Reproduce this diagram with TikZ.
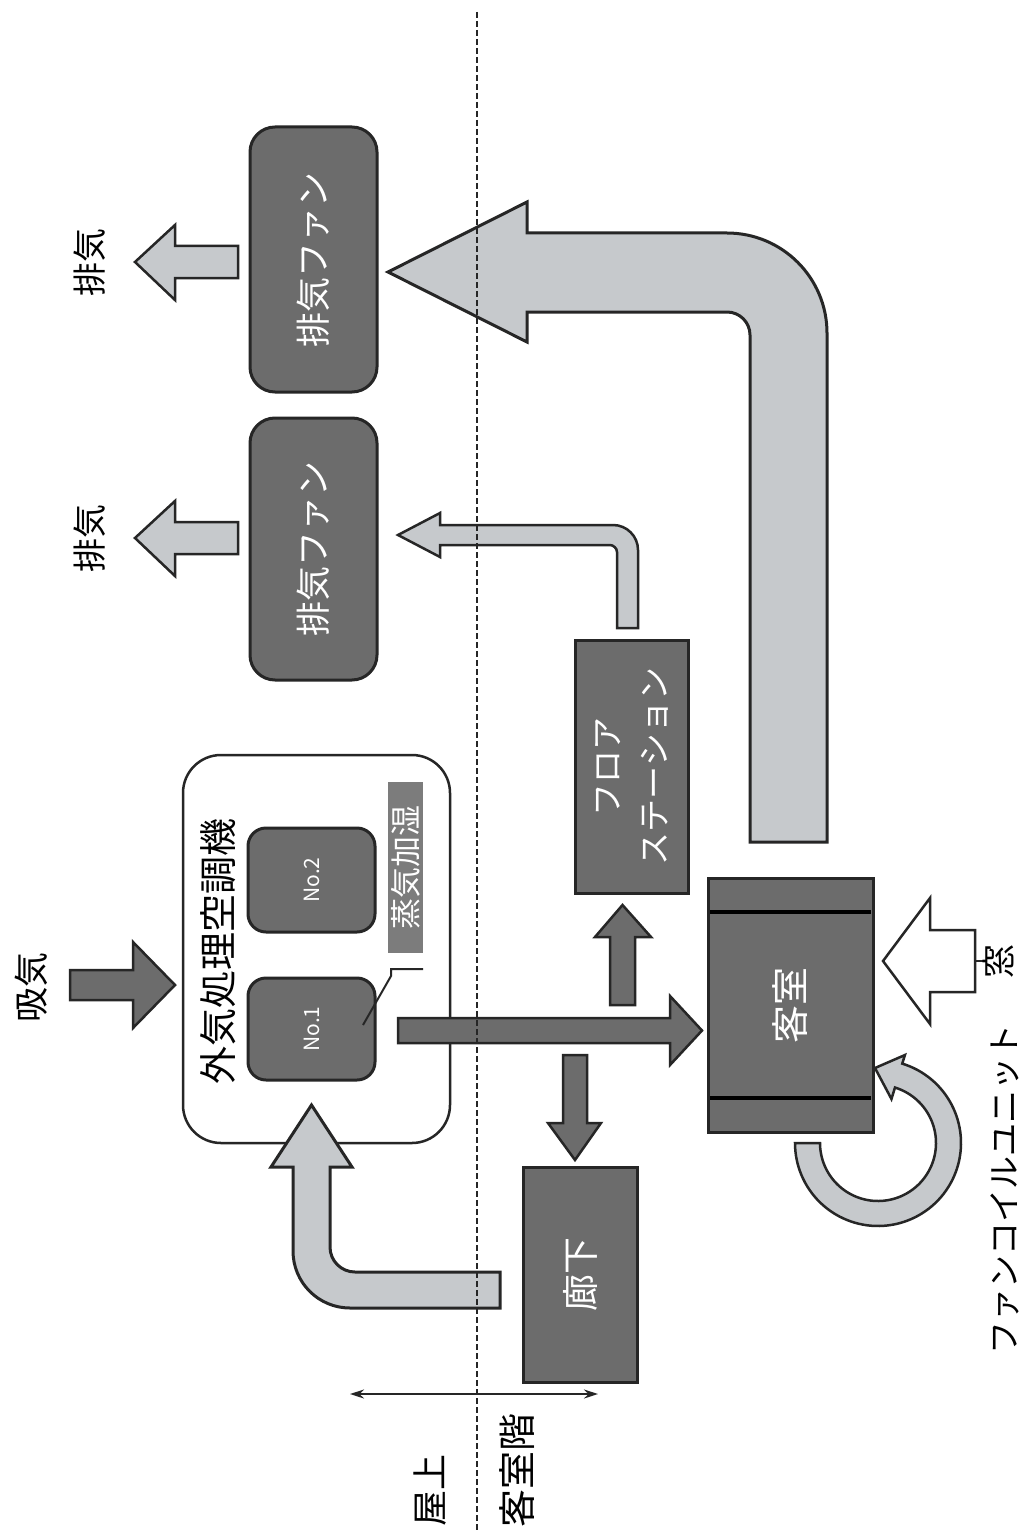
\documentclass[tikz,border=0pt]{standalone}
\usepackage{fontspec}
\setmainfont{Noto Sans CJK JP}
\usetikzlibrary{arrows.meta}
\definecolor{darkfill}{HTML}{6C6C6C}
\definecolor{steamfill}{HTML}{7C7C7C}
\definecolor{lightfill}{HTML}{C6C9CC}
\definecolor{edgecol}{HTML}{262626}
\newcommand\jfs[1]{\fontsize{#1}{#1}\selectfont}
\begin{document}
\begin{tikzpicture}[x=1pt,y=-1pt,
  box/.style={draw=edgecol, line width=3pt, fill=darkfill, rotate=90, inner sep=0pt, text=white},
  darrow/.style={draw=edgecol, line width=2.5pt, fill=darkfill, line join=miter},
  larrow/.style={draw=edgecol, line width=3pt, fill=lightfill, line join=miter},
  lbl/.style={rotate=90, inner sep=0pt, text=black}]

\useasboundingbox[fill=white] (0,0) rectangle (1025,1530);

% ---------- boxes ----------
\node[box, rounded corners=25pt, minimum width=265pt, minimum height=127pt] (fanA) at (313.5,259.5) {\jfs{35}排気ファン};
\node[box, rounded corners=25pt, minimum width=262pt, minimum height=127pt] (fanB) at (313.5,549) {\jfs{35}排気ファン};
\node[draw=edgecol, line width=2.5pt, fill=white, rounded corners=38pt, rotate=90, minimum width=388pt, minimum height=267pt] (ahu) at (316.5,949) {};
\node[lbl] (ahulbl) at (218,951) {\jfs{38}外気処理空調機};
\node[box, rounded corners=18pt, minimum width=104pt, minimum height=127pt] (no2) at (311.5,880) {\jfs{21}No.2};
\node[box, rounded corners=18pt, minimum width=102pt, minimum height=127pt] (no1) at (311.5,1029) {\jfs{21}No.1};
\node[fill=steamfill, rotate=90, inner sep=0pt, text=white, minimum width=171pt, minimum height=35pt] (steam) at (405.5,867.5) {\jfs{31}蒸気加湿};
\draw[edgecol, line width=2pt] (423,969) -- (391,969) -- (391,976) -- (363,1025);
\node[box, minimum width=253pt, minimum height=113pt, align=center, font=\fontsize{33}{47}\selectfont] (floor) at (631.5,766.5) {フロア\\ステーション};
\node[box, minimum width=254pt, minimum height=165pt] (room) at (790.5,1005) {\jfs{38}客室};
\draw[black, line width=3.5pt] (710,912) -- (871,912);
\draw[black, line width=3.5pt] (710,1098) -- (871,1098);
\node[box, minimum width=215pt, minimum height=114pt] (corr) at (580,1274.5) {\jfs{37}廊下};

% ---------- arrows (shapes) ----------
% big L arrow from guest room to exhaust fan 1
\draw[larrow] (750,842) -- (750,335) .. controls (750,322.3) and (739.7,312) .. (727,312)
  -- (527,312) -- (527,342) -- (388,272) -- (527,202) -- (527,233) -- (727,233)
  .. controls (782.2,233) and (827,277.8) .. (827,333) -- (827,842) -- cycle;
% thin L arrow from floor station to exhaust fan 2
\draw[larrow, line width=2.5pt] (617,628) -- (617,552) .. controls (617,548) and (613,545) .. (610,545)
  -- (440,545) -- (440,557) -- (398,535) -- (440,513) -- (440,525) -- (613,525)
  .. controls (626.8,525) and (638,536.2) .. (638,550) -- (638,628) -- cycle;
% L arrow from corridor to air handling unit
\draw[larrow] (500,1272) -- (355,1272) .. controls (341.2,1272) and (330,1260.8) .. (330,1247)
  -- (330,1167) -- (352,1167) -- (311.5,1105) -- (271,1167) -- (293,1167) -- (293,1251)
  .. controls (293,1282.5) and (318.5,1308) .. (350,1308) -- (500,1308) -- cycle;
% exhaust arrows
\draw[larrow, line width=2.5pt] (238,246) -- (175,246) -- (175,225) -- (135,262) -- (175,300) -- (175,278) -- (238,278) -- cycle;
\draw[larrow, line width=2.5pt] (238,522) -- (175,522) -- (175,501) -- (135,538) -- (175,576) -- (175,554) -- (238,554) -- cycle;
% intake arrow
\draw[darrow] (70,970) -- (133,970) -- (133,942) -- (175,985) -- (133,1028) -- (133,1000) -- (70,1000) -- cycle;
% unit -> guest room
\draw[darrow] (398,1018) -- (670,1018) -- (670,996) -- (702,1030.5) -- (670,1065) -- (670,1043) -- (398,1043) -- cycle;
% down to corridor
\draw[darrow] (563,1055) -- (587,1055) -- (587,1123) -- (601,1123) -- (575,1160) -- (548,1123) -- (563,1123) -- cycle;
% up to floor station
\draw[darrow] (610,1005) -- (610,937) -- (595,937) -- (622.5,905) -- (651,937) -- (635,937) -- (635,1005) -- cycle;
% window arrow
\draw[draw=edgecol, line width=2.5pt, fill=white, line join=miter] (975,930) -- (930,930) -- (930,898) -- (883,961) -- (930,1024) -- (930,992) -- (975,992) -- cycle;
\draw[edgecol, line width=2pt] (975,961) -- (986,961);
% fan coil circular arrow
\draw[larrow, line width=2.5pt] (795,1143)
  -- plot[domain=180:-73, samples=90] ({878+83*cos(\x)},{1143+83*sin(\x)})
  -- ({878+92*cos(-73)},{1143+92*sin(-73)}) -- (875,1068)
  -- ({878+46*cos(-73)},{1143+46*sin(-73)})
  -- plot[domain=-73:180, samples=90] ({878+58*cos(\x)},{1143+58*sin(\x)}) -- cycle;

% ---------- labels ----------
\node[lbl] (intake) at (31,987) {\jfs{35}吸気};
\node[lbl] (exA) at (90,262) {\jfs{34}排気};
\node[lbl] (exB) at (90,538) {\jfs{34}排気};
\node[lbl] (win) at (998,961) {\jfs{34}窓};
\node[lbl] (fcu) at (1005,1189) {\jfs{33}ファンコイルユニット};
\node[lbl] (roof) at (430,1490) {\jfs{36}屋上};
\node[lbl] (guestfl) at (517,1470) {\jfs{38}客室階};

% ---------- dashed boundary and level arrow ----------
\coordinate (dashT) at (477,12);
\coordinate (dashB) at (477,1530);
\draw[edgecol, line width=1.8pt, dash pattern=on 6pt off 3pt] (dashT) -- (dashB);
\coordinate (levL) at (350,1394);
\coordinate (levR) at (598,1394);
\draw[edgecol, line width=1.8pt, {Stealth[length=14pt,width=9pt]}-{Stealth[length=14pt,width=9pt]}] (levL) -- (levR);
\end{tikzpicture}
\end{document}
